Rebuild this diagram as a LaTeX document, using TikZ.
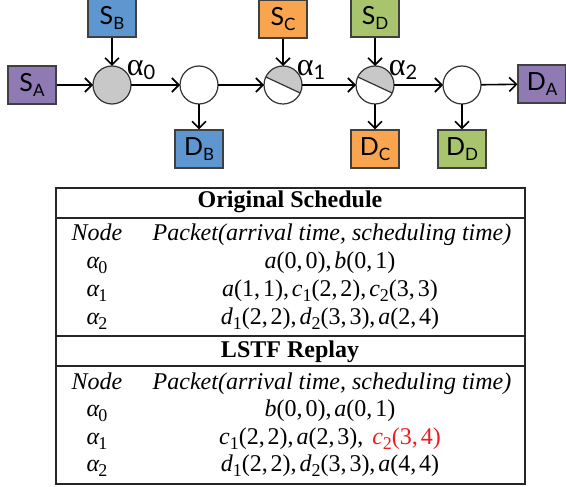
\documentclass[tikz,border=0pt]{standalone}
\usepackage{fontspec}
\setmainfont{Liberation Serif}
\newfontfamily\gillfont{Lato}
\usetikzlibrary{arrows.meta}

\definecolor{srcpurple}{HTML}{8F7AB4}
\definecolor{srcblue}{HTML}{5E97CF}
\definecolor{srcorange}{HTML}{F9A54F}
\definecolor{srcgreen}{HTML}{A8C56E}
\definecolor{nodegray}{HTML}{C8C8C8}
\definecolor{latered}{HTML}{EE1C1C}

\newcommand{\lbl}[2]{#1\raisebox{-0.45ex}{\fontsize{8.5}{9}\selectfont #2}}
\newcommand{\alab}[1]{{\fontsize{16}{16}\selectfont α}\raisebox{-0.5ex}{\gillfont\fontsize{10}{10}\selectfont #1}}
\newcommand{\tal}[1]{\textit{α}\kern-0.05em\raisebox{-0.5ex}{\fontsize{9}{9}\selectfont #1}}
\newcommand{\pk}[2]{\textit{#1}\raisebox{-0.5ex}{\fontsize{9}{9}\selectfont #2}}
\newcommand{\cm}{,\kern0.12em}

\begin{document}
\begin{tikzpicture}[x = 0.5pt, y = 0.5pt,
  box/.style = {draw = black!75, line width = 0.6pt, minimum width = 24pt, minimum height = 19pt, inner sep = 0pt, font = \gillfont\fontsize{12.5}{13}\selectfont},
  junc/.style = {circle, draw = black!80, fill = white, line width = 0.6pt, minimum size = 19pt, inner sep = 0pt, outer sep = 0pt},
  split/.style = {junc, path picture = {
    \fill [nodegray] (path picture bounding box.center) ++(335:9.5pt) arc [start angle = 335, delta angle = 180, radius = 9.5pt] -- cycle;
    \draw [line width = 0.6pt] (path picture bounding box.center) ++(155:9.5pt) -- ++(335:19pt);}},
  flow/.style = {-{Straight Barb[length = 3.5pt, width = 7pt]}, line width = 0.8pt},
  cell/.style = {font = \fontsize{12}{14}\selectfont, text height = 8.5pt, text depth = 2.5pt, inner sep = 0pt},
  title/.style = {cell, font = \fontsize{12}{14}\selectfont\bfseries},
  rule/.style = {line width = 0.7pt, draw = black!85}]

\useasboundingbox (0,0) rectangle (566,-486);

\node [box, fill = srcpurple] (sA) at (32,-85) {\lbl{S}{A}};
\node [box, fill = srcblue] (sB) at (112,-18) {\lbl{S}{B}};
\node [junc, fill = nodegray] (a0) at (112,-85) {};
\node (l0) at (141,-70) {\alab{0}};
\node [junc] (n1) at (199,-85) {};
\node [box, fill = srcblue] (dB) at (199,-149) {\lbl{D}{B}};

\node [box, fill = srcorange] (sC) at (283,-19) {\lbl{S}{C}};
\node [split] (a1) at (283,-85) {};
\node (l1) at (311,-70) {\alab{1}};
\node [box, fill = srcgreen] (sD) at (375,-18) {\lbl{S}{D}};
\node [split] (a2) at (375,-85) {};
\node (l2) at (403,-70) {\alab{2}};
\node [box, fill = srcorange] (dC) at (375,-149) {\lbl{D}{C}};

\node [junc] (n2) at (462,-85) {};
\node [box, fill = srcgreen] (dD) at (462,-149) {\lbl{D}{D}};
\node [box, fill = srcpurple] (dA) at (542,-84) {\lbl{D}{A}};

\draw [flow] (sA) edge (a0);
\draw [flow] (sB) edge (a0);
\draw [flow] (a0) edge (n1);
\draw [flow] (n1) edge (dB);
\draw [flow] (n1) edge (a1);
\draw [flow] (sC) edge (a1);
\draw [flow] (a1) edge (a2);
\draw [flow] (sD) edge (a2);
\draw [flow] (a2) edge (dC);
\draw [flow] (a2) edge (n2);
\draw [flow] (n2) edge (dD);
\draw [flow] (n2) edge (dA);

% schedule table
\draw [rule] (56,-188) rectangle (525,-484);
\draw [rule] (56,-218) -- (525,-218);
\draw [rule] (56,-336) -- (525,-336);
\draw [rule] (56,-366) -- (525,-366);

\node [title] (h1) at (290,-201) {Original Schedule};
\node [cell] (c1) at (97,-234) {\textit{Node}};
\node [cell] (p1) at (332,-234) {\textit{Packet(arrival time, scheduling time)}};
\node [cell] (r1) at (97,-262) {\tal{0}};
\node [cell] (q1) at (330,-262) {\textit{a}(0\cm0)\cm\textit{b}(0\cm1)};
\node [cell] (r2) at (97,-290) {\tal{1}};
\node [cell] (q2) at (330,-290) {\textit{a}(1\cm1)\cm\pk{c}{1}(2\cm2)\cm\pk{c}{2}(3\cm3)};
\node [cell] (r3) at (97,-318) {\tal{2}};
\node [cell] (q3) at (330,-318) {\pk{d}{1}(2\cm2)\cm\pk{d}{2}(3\cm3)\cm\textit{a}(2\cm4)};

\node [title] (h2) at (290,-351) {LSTF Replay};
\node [cell] (c2) at (97,-383) {\textit{Node}};
\node [cell] (p2) at (332,-383) {\textit{Packet(arrival time, scheduling time)}};
\node [cell] (r4) at (97,-410) {\tal{0}};
\node [cell] (q4) at (330,-410) {\textit{b}(0\cm0)\cm\textit{a}(0\cm1)};
\node [cell] (r5) at (97,-438) {\tal{1}};
\node [cell] (q5) at (330,-438) {\pk{c}{1}(2\cm2)\cm\textit{a}(2\cm3)\cm\ \textcolor{latered}{\pk{c}{2}(3\cm4)}};
\node [cell] (r6) at (97,-465) {\tal{2}};
\node [cell] (q6) at (330,-465) {\pk{d}{1}(2\cm2)\cm\pk{d}{2}(3\cm3)\cm\textit{a}(4\cm4)};
\end{tikzpicture}
\end{document}
